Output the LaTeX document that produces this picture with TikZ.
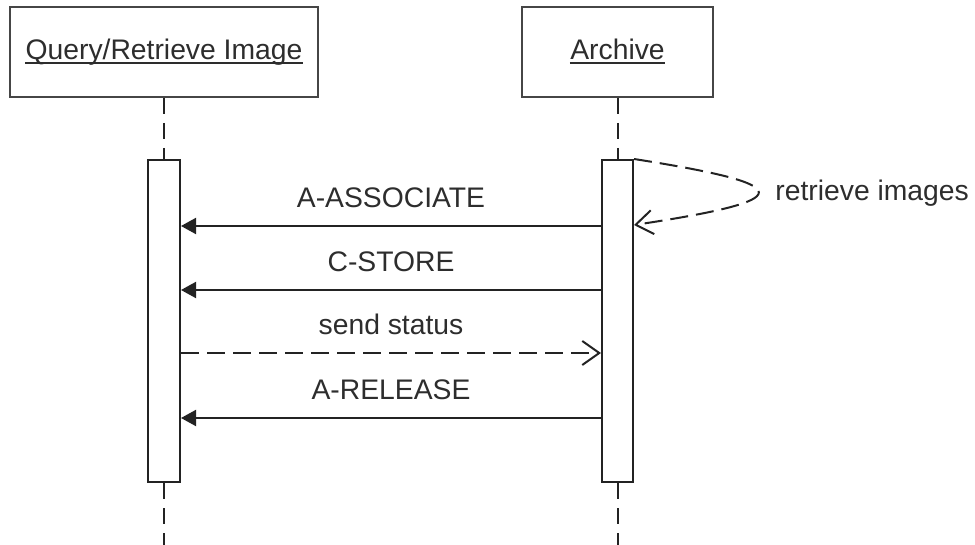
\documentclass[tikz,border=0pt]{standalone}
\usepackage{fontspec}
\setmainfont{Liberation Sans}
\usetikzlibrary{arrows.meta}
\definecolor{linec}{RGB}{35,35,35}
\definecolor{boxc}{RGB}{70,70,70}
\definecolor{textc}{RGB}{45,45,45}
\begin{document}
\begin{tikzpicture}[x=0.5pt,y=-0.5pt,
  every node/.style={font=\fontsize{14.15pt}{17pt}\selectfont, text=textc},
  objbox/.style={draw=boxc, line width=1pt, fill=white, minimum width=#1, minimum height=45pt, inner sep=0pt},
  actbar/.style={draw=linec, line width=1pt, fill=white, minimum width=#1, minimum height=161pt, inner sep=0pt},
  lifeline/.style={draw=linec, line width=1pt, dash pattern=on 8pt off 4.5pt},
  syncmsg/.style={draw=linec, line width=1pt, -{Triangle[length=7.5pt,width=8pt]}},
  retmsg/.style={draw=linec, line width=1pt, dash pattern=on 9pt off 4pt, -{Straight Barb[length=8.5pt,width=12pt,line width=1pt]}},
  msglabel/.style={midway, anchor=base, yshift=9pt, inner sep=0pt}
]
\useasboundingbox (0,0) rectangle (975,545);
% object boxes
\node[objbox=154pt] (qrbox) at (164,52) {};
\node[objbox=95.5pt] (arbox) at (617.5,52) {};
\node[anchor=base, inner sep=0pt] (qrlabel) at (164,60) {Query/Retrieve Image};
\node[anchor=base, inner sep=0pt] (arlabel) at (617.5,60) {Archive};
\draw[textc, line width=0.7pt] ([yshift=-1.6pt]qrlabel.base west) -- ([yshift=-1.6pt]qrlabel.base east);
\draw[textc, line width=0.7pt] ([yshift=-1.6pt]arlabel.base west) -- ([yshift=-1.6pt]arlabel.base east);
% activation bars
\node[actbar=16pt] (act1) at (164,321) {};
\node[actbar=15.5pt] (act2) at (617.5,321) {};
% lifelines
\coordinate (end1) at (164,545);
\coordinate (end2) at (617.5,545);
\draw[lifeline] (qrbox.south) -- (act1.north);
\draw[lifeline] (arbox.south) -- (act2.north);
\draw[lifeline] (act1.south) -- (end1);
\draw[lifeline] (act2.south) -- (end2);
% self message
\draw[retmsg] (act2.north east) .. controls (800,185) and (800,200) .. (act2.east |- 0,225);
\node[anchor=base west, inner sep=0pt] (selflabel) at (775,201) {retrieve images};
% messages
\draw[syncmsg] (act2.west |- 0,226) -- node[msglabel] (m1) {A-ASSOCIATE} (act1.east |- 0,226);
\draw[syncmsg] (act2.west |- 0,290) -- node[msglabel] (m2) {C-STORE} (act1.east |- 0,290);
\draw[retmsg] (act1.east |- 0,353) -- node[msglabel] (m3) {send status} (act2.west |- 0,353);
\draw[syncmsg] (act2.west |- 0,418) -- node[msglabel] (m4) {A-RELEASE} (act1.east |- 0,418);
\end{tikzpicture}
\end{document}
